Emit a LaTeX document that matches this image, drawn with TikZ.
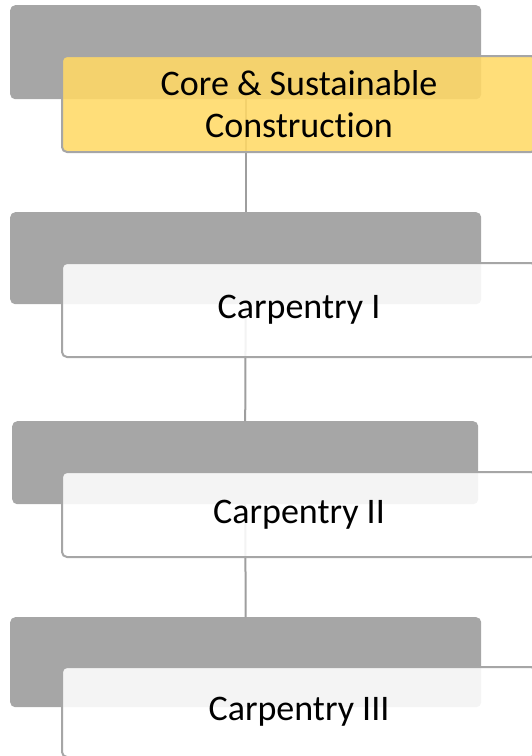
\documentclass[tikz,border=0pt]{standalone}
\usepackage{fontspec}
\setmainfont{Carlito}[Ligatures=NoCommon]
\definecolor{boxgray}{HTML}{A6A6A6}
\definecolor{coreyellow}{HTML}{FFD966}
\tikzset{
	backbox/.style={rectangle,rounded corners=5pt,fill=boxgray,
		anchor=north west,inner sep=0pt},
	levelbox/.style={rectangle,rounded corners=5pt,draw=boxgray,
		line width=2pt,fill opacity=0.88,text opacity=1,
		minimum width=474pt,anchor=north west,align=center,inner sep=0pt,
		font=\fontsize{36}{42}\selectfont},
	link/.style={draw=boxgray!95!black,line width=2pt}
}
\begin{document}
\begin{tikzpicture}[x=1pt,y=-1pt]
	\clip (0,0) rectangle (532,756);
	\foreach \i/\x/\y/\w/\h in {1/10/5/471/94,
		2/10/212/471/92,3/12/421/466/83,4/10/617/471/90} \path
	(\x,\y) node[backbox,minimum width=\w pt,minimum height=\h pt](back\i){};
	\foreach \i/\j in {1/2,2/3,3/4}
	\draw[link] (back\i.south)--(back\j.north);
	\foreach \i/\y/\h/\col/\txt in {1/56/96/coreyellow/{Core \& Sustainable\\Construction},
		2/263/94/white/Carpentry I,3/472/85/white/Carpentry II,
		4/667/90/white/Carpentry III} \path
	(61,\y) node[levelbox,fill=\col,minimum height=\h pt,yshift=1pt](level\i){\txt};
\end{tikzpicture}
\end{document}
